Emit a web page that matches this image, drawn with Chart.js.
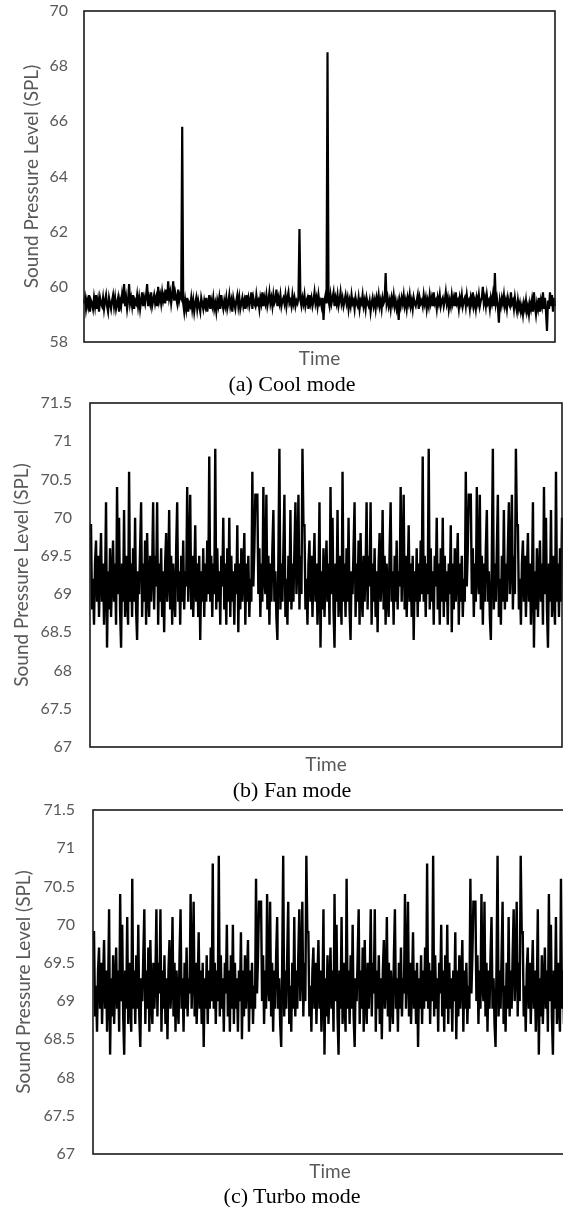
<!DOCTYPE html>
<html>
<head>
<meta charset="utf-8">
<script src="https://cdn.jsdelivr.net/npm/chart.js@4.4.1/dist/chart.umd.min.js"></script>
<style>
html,body{margin:0;padding:0;background:#fff;}
body{width:563px;height:1207px;overflow:hidden;position:relative;}
canvas{position:absolute;left:0;}
.cap{position:absolute;font-family:"Liberation Serif","Times New Roman",serif;font-size:22px;color:#000;white-space:nowrap;transform:translate(-50%,-50%);line-height:1;}
</style>
</head>
<body>
<canvas id="c0"></canvas>
<canvas id="c1"></canvas>
<canvas id="c2"></canvas>
<div class="cap" style="left:292px;top:384px">(a) Cool mode</div>
<div class="cap" style="left:292px;top:790px">(b) Fan mode</div>
<div class="cap" style="left:292px;top:1196px">(c) Turbo mode</div>
<script>
// ---------------- data ----------------
const coolValues = [
59.4,59.6,59.2,59.5,59.3,59.7,59.1,59.5,59.4,59.2,59.6,59.3,59.7,59.2,59.5,59.1,59.6,59.4,59.3,59.6,
59.2,59.5,59.7,59.3,59.1,59.6,59.4,59.2,59.5,59.7,59.3,59.6,59.2,59.4,59.6,59.1,59.5,59.3,59.7,59.4,
60.1,59.3,59.6,59.2,59.5,60.1,59.4,59.6,59.3,59.7,59.2,59.5,59.4,59.7,59.3,59.6,59.2,59.5,59.8,59.3,
59.6,59.4,59.7,60.1,59.3,59.6,59.4,59.8,59.3,59.5,59.7,59.4,59.6,59.3,60.0,59.5,59.7,59.4,59.8,59.5,
59.7,59.4,59.9,59.5,60.2,59.6,59.8,59.4,59.7,60.2,59.5,59.8,59.6,59.4,59.9,59.5,59.7,59.6,65.8,59.4,
59.1,59.5,59.2,59.6,59.1,59.4,59.3,59.6,59.2,59.5,59.1,59.4,59.6,59.2,59.5,59.3,59.1,59.6,59.4,59.2,
59.5,59.3,59.6,59.1,59.4,59.7,59.2,59.5,59.3,59.6,59.2,59.4,59.1,59.5,59.3,59.6,59.2,59.7,59.4,59.2,
59.5,59.3,59.6,59.2,59.4,59.7,59.3,59.5,59.1,59.6,59.4,59.2,59.5,59.7,59.3,59.6,59.2,59.4,59.6,59.3,
59.5,59.2,59.7,59.4,59.6,59.3,59.5,59.8,59.2,59.6,59.4,59.3,59.7,59.4,59.5,59.2,59.6,59.4,59.8,59.3,
59.6,59.4,59.7,59.3,59.5,59.8,59.4,59.6,59.3,59.7,59.4,59.5,59.9,59.3,59.6,59.4,59.7,59.3,59.5,59.6,
59.4,59.7,59.3,59.6,59.8,59.4,59.5,59.3,59.7,59.4,59.6,59.3,59.5,59.4,59.6,62.1,59.5,59.3,59.6,59.4,
59.7,59.3,59.5,59.6,59.2,59.7,59.4,59.6,59.3,59.5,59.8,59.4,59.6,59.3,59.7,59.4,59.5,59.3,59.6,58.8,
59.5,59.7,59.4,68.5,59.5,59.3,59.7,59.4,59.6,59.8,59.3,59.6,59.4,59.7,59.3,59.5,59.8,59.4,59.6,59.3,
59.5,59.7,59.4,59.6,59.2,59.5,59.3,59.7,59.4,59.5,59.2,59.6,59.4,59.3,59.6,59.2,59.5,59.4,59.7,59.3,
59.5,59.2,59.6,59.4,59.3,59.5,59.1,59.4,59.6,59.3,59.5,59.2,59.6,59.4,59.7,59.3,59.5,59.2,59.6,59.4,
59.5,60.5,59.4,59.6,59.3,59.5,59.2,59.6,59.4,59.7,59.3,59.5,59.2,59.4,58.8,59.5,59.3,59.6,59.4,59.7,
59.3,59.5,59.2,59.6,59.4,59.7,59.3,59.5,59.2,59.6,59.4,59.3,59.5,59.7,59.2,59.6,59.4,59.5,59.3,59.7,
59.4,59.6,59.2,59.5,59.3,59.7,59.4,59.6,59.3,59.8,59.4,59.5,59.2,59.6,59.4,59.7,59.3,59.5,59.6,59.3,
59.5,59.8,59.4,59.6,59.2,59.5,59.3,59.7,59.4,59.6,59.3,59.8,59.4,59.5,59.2,59.6,59.4,59.7,59.3,59.5,
59.6,59.3,59.7,59.4,59.5,59.2,59.6,59.4,59.8,59.3,59.5,59.2,59.6,59.4,59.7,59.3,59.5,59.6,60.0,59.4,
59.6,59.3,59.7,59.4,59.5,59.2,59.6,59.4,59.7,59.3,60.5,59.4,59.6,59.3,58.7,59.5,59.3,59.6,59.4,59.7,
59.3,59.5,59.2,59.6,59.4,59.3,59.8,59.4,59.5,59.2,59.6,59.3,59.1,59.5,59.2,59.4,59.1,59.3,59.0,59.4,
59.2,59.5,59.1,59.3,59.0,59.4,59.2,59.5,59.1,59.8,59.3,59.0,59.4,59.2,59.6,59.1,59.5,59.3,59.8,59.2,
59.6,59.1,58.4,59.5,59.2,59.8,59.3,59.7,59.1,59.6,59.3
];

const fanValues = [
69.9,69.9,68.8,69.2,68.6,69.4,69.7,68.9,69.5,68.7,69.3,69.8,68.9,69.4,68.6,69.1,70.2,68.3,69.3,68.8,
69.6,68.7,69.2,69.7,68.9,69.4,68.6,70.4,69.0,70.0,68.8,68.3,69.4,68.9,70.1,68.7,69.5,69.0,68.6,70.6,
68.9,69.4,68.7,69.6,68.9,70.0,68.8,68.4,69.3,69.0,69.6,70.2,68.7,69.4,68.9,69.7,68.6,69.8,69.0,68.7,
69.5,68.9,69.3,70.2,68.8,69.5,69.1,70.2,68.6,69.4,68.9,69.6,68.7,69.3,68.5,69.4,69.8,68.9,69.2,70.1,
68.8,69.5,68.6,69.4,69.0,68.7,69.6,70.2,68.9,69.3,68.6,69.5,68.9,69.7,68.8,69.3,69.1,70.4,68.9,69.4,
70.3,68.8,69.5,68.7,69.2,69.9,68.9,69.4,68.7,69.5,68.4,69.3,68.9,69.6,68.7,69.4,68.9,69.7,69.0,70.8,
68.9,69.5,68.7,69.4,69.0,70.9,68.8,69.6,68.9,69.3,68.6,69.5,69.1,70.0,68.8,69.4,68.6,69.6,68.9,70.0,
68.7,69.5,68.9,69.3,68.6,69.4,69.0,69.9,68.5,69.4,68.8,69.6,68.9,69.3,69.8,68.6,69.4,68.9,69.5,68.7,
69.2,68.9,70.6,69.1,69.6,70.3,70.3,70.3,69.0,69.6,68.7,69.4,68.9,70.4,69.2,69.0,70.3,68.8,69.5,68.6,
69.4,68.9,69.6,70.1,68.9,69.3,68.7,68.4,69.5,70.9,68.8,69.4,68.9,69.6,70.3,68.7,69.2,68.6,69.5,68.9,
70.1,68.8,69.4,68.9,69.6,70.2,69.0,69.4,70.3,68.8,69.5,69.0,70.9,
69.9,69.9,68.8,69.2,68.6,69.4,69.7,68.9,69.5,68.7,69.3,69.8,68.9,69.4,68.6,69.1,70.2,68.3,69.3,68.8,
69.6,68.7,69.2,69.7,68.9,69.4,68.6,70.4,69.0,70.0,68.8,68.3,69.4,68.9,70.1,68.7,69.5,69.0,68.6,70.6,
68.9,69.4,68.7,69.6,68.9,70.0,68.8,68.4,69.3,69.0,69.6,70.2,68.7,69.4,68.9,69.7,68.6,69.8,69.0,68.7,
69.5,68.9,69.3,70.2,68.8,69.5,69.1,70.2,68.6,69.4,68.9,69.6,68.7,69.3,68.5,69.4,69.8,68.9,69.2,70.1,
68.8,69.5,68.6,69.4,69.0,68.7,69.6,70.2,68.9,69.3,68.6,69.5,68.9,69.7,68.8,69.3,69.1,70.4,68.9,69.4,
70.3,68.8,69.5,68.7,69.2,69.9,68.9,69.4,68.7,69.5,68.4,69.3,68.9,69.6,68.7,69.4,68.9,69.7,69.0,70.8,
68.9,69.5,68.7,69.4,69.0,70.9,68.8,69.6,68.9,69.3,68.6,69.5,69.1,70.0,68.8,69.4,68.6,69.6,68.9,70.0,
68.7,69.5,68.9,69.3,68.6,69.4,69.0,69.9,68.5,69.4,68.8,69.6,68.9,69.3,69.8,68.6,69.4,68.9,69.5,68.7,
69.2,68.9,70.6,69.1,69.6,70.3,70.3,70.3,69.0,69.6,68.7,69.4,68.9,70.4,69.2,69.0,70.3,68.8,69.5,68.6,
69.4,68.9,69.6,70.1,68.9,69.3,68.7,68.4,69.5,70.9,68.8,69.4,68.9,69.6,70.3,68.7,69.2,68.6,69.5,68.9,
70.1,68.8,69.4,68.9,69.6,70.2,69.0,69.4,70.3,68.8,69.5,69.0,70.9,
69.9,69.9,68.8,69.2,68.6,69.4,69.7,68.9,69.5,68.7,69.3,69.8,68.9,69.4,68.6,69.1,70.2,68.3,69.3,68.8,
69.6,68.7,69.2,69.7,68.9,69.4,68.6,70.4,69.0,70.0,68.8,68.3,69.4,68.9,70.1,68.7,69.5,69.0,68.6,70.6,
68.9,69.4,68.7,69.6,68.9,70.0
];

const turboValues = [
69.9,69.9,68.8,69.2,68.6,69.4,69.7,68.9,69.5,68.7,69.3,69.8,68.9,69.4,68.6,69.1,70.2,68.3,69.3,68.8,
69.6,68.7,69.2,69.7,68.9,69.4,68.6,70.4,69.0,70.0,68.8,68.3,69.4,68.9,70.1,68.7,69.5,69.0,68.6,70.6,
68.9,69.4,68.7,69.6,68.9,70.0,68.8,68.4,69.3,69.0,69.6,70.2,68.7,69.4,68.9,69.7,68.6,69.8,69.0,68.7,
69.5,68.9,69.3,70.2,68.8,69.5,69.1,70.2,68.6,69.4,68.9,69.6,68.7,69.3,68.5,69.4,69.8,68.9,69.2,70.1,
68.8,69.5,68.6,69.4,69.0,68.7,69.6,70.2,68.9,69.3,68.6,69.5,68.9,69.7,68.8,69.3,69.1,70.4,68.9,69.4,
70.3,68.8,69.5,68.7,69.2,69.9,68.9,69.4,68.7,69.5,68.4,69.3,68.9,69.6,68.7,69.4,68.9,69.7,69.0,70.8,
68.9,69.5,68.7,69.4,69.0,70.9,68.8,69.6,68.9,69.3,68.6,69.5,69.1,70.0,68.8,69.4,68.6,69.6,68.9,70.0,
68.7,69.5,68.9,69.3,68.6,69.4,69.0,69.9,68.5,69.4,68.8,69.6,68.9,69.3,69.8,68.6,69.4,68.9,69.5,68.7,
69.2,68.9,70.6,69.1,69.6,70.3,70.3,70.3,69.0,69.6,68.7,69.4,68.9,70.4,69.2,69.0,70.3,68.8,69.5,68.6,
69.4,68.9,69.6,70.1,68.9,69.3,68.7,68.4,69.5,70.9,68.8,69.4,68.9,69.6,70.3,68.7,69.2,68.6,69.5,68.9,
70.1,68.8,69.4,68.9,69.6,70.2,69.0,69.4,70.3,68.8,69.5,69.0,70.9,
69.9,69.9,68.8,69.2,68.6,69.4,69.7,68.9,69.5,68.7,69.3,69.8,68.9,69.4,68.6,69.1,70.2,68.3,69.3,68.8,
69.6,68.7,69.2,69.7,68.9,69.4,68.6,70.4,69.0,70.0,68.8,68.3,69.4,68.9,70.1,68.7,69.5,69.0,68.6,70.6,
68.9,69.4,68.7,69.6,68.9,70.0,68.8,68.4,69.3,69.0,69.6,70.2,68.7,69.4,68.9,69.7,68.6,69.8,69.0,68.7,
69.5,68.9,69.3,70.2,68.8,69.5,69.1,70.2,68.6,69.4,68.9,69.6,68.7,69.3,68.5,69.4,69.8,68.9,69.2,70.1,
68.8,69.5,68.6,69.4,69.0,68.7,69.6,70.2,68.9,69.3,68.6,69.5,68.9,69.7,68.8,69.3,69.1,70.4,68.9,69.4,
70.3,68.8,69.5,68.7,69.2,69.9,68.9,69.4,68.7,69.5,68.4,69.3,68.9,69.6,68.7,69.4,68.9,69.7,69.0,70.8,
68.9,69.5,68.7,69.4,69.0,70.9,68.8,69.6,68.9,69.3,68.6,69.5,69.1,70.0,68.8,69.4,68.6,69.6,68.9,70.0,
68.7,69.5,68.9,69.3,68.6,69.4,69.0,69.9,68.5,69.4,68.8,69.6,68.9,69.3,69.8,68.6,69.4,68.9,69.5,68.7,
69.2,68.9,70.6,69.1,69.6,70.3,70.3,70.3,69.0,69.6,68.7,69.4,68.9,70.4,69.2,69.0,70.3,68.8,69.5,68.6,
69.4,68.9,69.6,70.1,68.9,69.3,68.7,68.4,69.5,70.9,68.8,69.4,68.9,69.6,70.3,68.7,69.2,68.6,69.5,68.9,
70.1,68.8,69.4,68.9,69.6,70.2,69.0,69.4,70.3,68.8,69.5,69.0,70.9,
69.9,69.9,68.8,69.2,68.6,69.4,69.7,68.9,69.5,68.7,69.3,69.8,68.9,69.4,68.6,69.1,70.2,68.3,69.3,68.8,
69.6,68.7,69.2,69.7,68.9,69.4,68.6,70.4,69.0,70.0,68.8,68.3,69.4,68.9,70.1,68.7,69.5,69.0,68.6,70.6,
68.9,69.4,68.7,69.6,68.9,70.0
];

const coolTicks = [58, 60, 62, 64, 66, 68, 70];
const fanTicks = [67, 67.5, 68, 68.5, 69, 69.5, 70, 70.5, 71, 71.5];
const turboTicks = [67, 67.5, 68, 68.5, 69, 69.5, 70, 70.5, 71, 71.5];
const yTitle = 'Sound Pressure Level (SPL)';
const xTitle = 'Time';

// ---------------- layout ----------------
const FONT = 'Lato, "Open Sans", sans-serif';
const TICK_SIZE = 16;
const TITLE_SIZE = 19;
const GREY = '#595959';

const panels = [
  { id:'c0', values:coolValues, ticks:coolTicks, top:0, height:374, width:563, lineW:2.2,
    plotTop:11, plotBottom:342, plotLeft:84, plotRight:555, timeY:359, yTitleX:32, gap:16 },
  { id:'c1', values:fanValues, ticks:fanTicks, top:390, height:386, width:563, lineW:2.4,
    plotTop:403, plotBottom:747, plotLeft:90, plotRight:562, timeY:765, yTitleX:22, gap:18 },
  { id:'c2', values:turboValues, ticks:turboTicks, top:797, height:388, width:575, lineW:2.4,
    plotTop:810, plotBottom:1154, plotLeft:93, plotRight:567, timeY:1172, yTitleX:24, gap:18 }
];

const framePlugin = {
  id: 'frame',
  afterDatasetsDraw(chart) {
    const { ctx, chartArea: a } = chart;
    ctx.save();
    ctx.strokeStyle = '#1a1a1a';
    ctx.lineWidth = 1.6;
    ctx.strokeRect(a.left, a.top, a.right - a.left, a.bottom - a.top);
    ctx.restore();
  }
};

panels.forEach(p => {
  const cv = document.getElementById(p.id);
  cv.width = p.width;
  cv.height = p.height;
  cv.style.top = p.top + 'px';
  cv.style.width = p.width + 'px';
  cv.style.height = p.height + 'px';

  const xAxisH = p.top + p.height - p.plotBottom;
  const lh = 1.2;
  const titlePadBottom = Math.max(0, (p.top + p.height - p.timeY) - TITLE_SIZE * lh / 2);
  const yTitlePad = p.yTitleX - TITLE_SIZE * lh / 2;
  const tickVals = p.ticks;

  new Chart(cv, {
    type: 'line',
    data: {
      labels: p.values.map((_, i) => i),
      datasets: [{
        data: p.values,
        borderColor: '#000',
        borderWidth: p.lineW,
        pointRadius: 0,
        tension: 0,
        fill: false
      }]
    },
    options: {
      responsive: false,
      animation: false,
      events: [],
      layout: { padding: { top: p.plotTop - p.top, right: p.width - p.plotRight, left: 0, bottom: 0 } },
      plugins: { legend: { display: false }, tooltip: { enabled: false } },
      scales: {
        x: {
          type: 'category',
          offset: false,
          grid: { display: false, drawTicks: false },
          border: { display: false },
          ticks: { display: false },
          title: { display: true, text: xTitle, color: GREY,
                   font: { family: FONT, size: TITLE_SIZE, lineHeight: lh },
                   padding: { top: 0, bottom: titlePadBottom } },
          afterFit: s => { s.height = xAxisH; s.paddingLeft = 0; s.paddingRight = 0; }
        },
        y: {
          min: tickVals[0],
          max: tickVals[tickVals.length - 1],
          grid: { display: false, drawTicks: false },
          border: { display: false },
          afterBuildTicks: s => { s.ticks = tickVals.map(v => ({ value: v })); },
          ticks: { color: GREY, padding: p.gap, font: { family: FONT, size: TICK_SIZE },
                   callback: v => String(v) },
          title: { display: true, text: yTitle, color: GREY,
                   font: { family: FONT, size: TITLE_SIZE, lineHeight: lh },
                   padding: { top: yTitlePad, bottom: 0 } },
          afterFit: s => { s.width = p.plotLeft; s.paddingTop = 0; s.paddingBottom = 0; }
        }
      }
    },
    plugins: [framePlugin]
  });
});
</script>
</body>
</html>
